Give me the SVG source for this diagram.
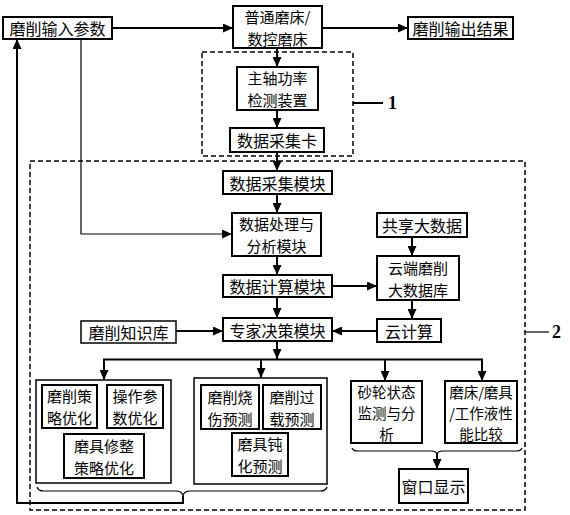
<svg xmlns="http://www.w3.org/2000/svg" width="570" height="515" viewBox="0 0 570 515">
<defs>
<style>
.b{fill:#fff;stroke:#000;stroke-width:2}
.g{fill:#fff;stroke:#000;stroke-width:1.5}
.d{fill:none;stroke:#000;stroke-width:1.5;stroke-dasharray:5,3}
.c{fill:none;stroke:#000;stroke-width:2}
.thin{fill:none;stroke:#000;stroke-width:1.2}
.t{font-family:"Noto Sans CJK SC","Noto Sans",sans-serif;font-size:16px;text-anchor:middle;dominant-baseline:central;fill:#000}
.m{font-size:15px}
.s{font-size:14.5px}
.n{font-family:"Liberation Serif",serif;font-size:18px;font-weight:bold;fill:#000}
</style>
<marker id="a" markerUnits="userSpaceOnUse" markerWidth="10" markerHeight="9" refX="10" refY="4.5" orient="auto">
<path d="M0,0 L10,4.5 L0,9 z" fill="#000"/>
</marker>
</defs>
<rect width="570" height="515" fill="#fff"/>

<g id="regions">
<rect class="d" x="202" y="52" width="151" height="104"/>
<rect class="d" x="30" y="161" width="495" height="349"/>
<line class="c" x1="353" y1="103" x2="383" y2="103"/>
<text class="n" x="388" y="109">1</text>
<line class="thin" x1="525" y1="332" x2="549" y2="332"/>
<text class="n" x="552" y="338">2</text>
</g>

<g id="connectors">
<line class="c" x1="112" y1="28" x2="233" y2="28" marker-end="url(#a)"/>
<line class="c" x1="322" y1="28" x2="408" y2="28" marker-end="url(#a)"/>
<line class="c" x1="277" y1="48" x2="277" y2="67" marker-end="url(#a)"/>
<line class="c" x1="277" y1="110" x2="277" y2="128" marker-end="url(#a)"/>
<line class="c" x1="277" y1="152" x2="277" y2="171" marker-end="url(#a)"/>
<line class="c" x1="277" y1="194" x2="277" y2="213" marker-end="url(#a)"/>
<line class="c" x1="277" y1="256" x2="277" y2="275" marker-end="url(#a)"/>
<line class="c" x1="277" y1="297" x2="277" y2="318" marker-end="url(#a)"/>
<line class="c" x1="277" y1="341" x2="277" y2="359" marker-end="url(#a)"/>
<line class="c" x1="103" y1="359.5" x2="483" y2="359.5"/>
<line class="c" x1="104" y1="359" x2="104" y2="380" marker-end="url(#a)"/>
<line class="c" x1="261" y1="359" x2="261" y2="378" marker-end="url(#a)"/>
<line class="c" x1="385" y1="359" x2="385" y2="381" marker-end="url(#a)"/>
<line class="c" x1="482" y1="359" x2="482" y2="381" marker-end="url(#a)"/>
<polyline class="thin" points="81,39 81,234 232,234" marker-end="url(#a)"/>
<line class="c" x1="176" y1="331" x2="223" y2="331" marker-end="url(#a)"/>
<line class="c" x1="332" y1="286" x2="377" y2="286" marker-end="url(#a)"/>
<line class="c" x1="412" y1="237" x2="412" y2="256" marker-end="url(#a)"/>
<line class="c" x1="412" y1="300" x2="412" y2="319" marker-end="url(#a)"/>
<line class="c" x1="377" y1="331" x2="332" y2="331" marker-end="url(#a)"/>
<path class="thin" d="M37,487 Q38,491 44,491 L176,491 Q182,491 183,496 Q184,491 190,491 L320,491 Q326,491 327,487"/>
<path class="thin" d="M352,448 Q353,451 358,451 L431,451 Q436,451 437,454 Q438,451 443,451 L516,451 Q521,451 522,448"/>
<line class="c" x1="437" y1="453" x2="437" y2="469" marker-end="url(#a)"/>
<polyline class="c" points="183,496 183,503 17,503 17,39" marker-end="url(#a)"/>
</g>

<g id="n-input"><rect class="b" x="3" y="17" width="109" height="22"/><text class="t" x="57.5" y="28">磨削输入参数</text></g>
<g id="n-machine"><rect class="b" x="233" y="6" width="89" height="42"/><text class="t m" x="277.5" y="16">普通磨床/</text><text class="t m" x="277.5" y="38">数控磨床</text></g>
<g id="n-output"><rect class="b" x="408" y="17" width="105" height="22"/><text class="t" x="460.5" y="28">磨削输出结果</text></g>
<g id="n-spindle"><rect class="b" x="237" y="67" width="81" height="43"/><text class="t m" x="277.5" y="77.5">主轴功率</text><text class="t m" x="277.5" y="99.5">检测装置</text></g>
<g id="n-card"><rect class="b" x="230" y="128" width="94" height="24"/><text class="t" x="277" y="140">数据采集卡</text></g>
<g id="n-daq"><rect class="b" x="223" y="171" width="109" height="23"/><text class="t" x="277.5" y="182.5">数据采集模块</text></g>
<g id="n-process"><rect class="b" x="232" y="213" width="89" height="43"/><text class="t m" x="276.5" y="223.5">数据处理与</text><text class="t m" x="276.5" y="245.5">分析模块</text></g>
<g id="n-calc"><rect class="b" x="223" y="275" width="109" height="22"/><text class="t" x="277.5" y="286">数据计算模块</text></g>
<g id="n-expert"><rect class="b" x="223" y="318" width="109" height="23"/><text class="t" x="277.5" y="329.5">专家决策模块</text></g>
<g id="n-knowledge"><rect class="g" x="81" y="321" width="95" height="22"/><text class="t" x="128.5" y="332">磨削知识库</text></g>
<g id="n-shared"><rect class="b" x="377" y="213" width="90" height="24"/><text class="t" x="422" y="225">共享大数据</text></g>
<g id="n-clouddb"><rect class="b" x="377" y="256" width="82" height="44"/><text class="t m" x="418" y="267">云端磨削</text><text class="t m" x="418" y="289">大数据库</text></g>
<g id="n-cloudcalc"><rect class="b" x="377" y="319" width="64" height="23"/><text class="t" x="409" y="330.5">云计算</text></g>

<g id="n-group1">
<rect class="g" x="36" y="380" width="135" height="103"/>
<rect class="b" x="42" y="385" width="55" height="43"/><text class="t m" x="69.5" y="395.5">磨削策</text><text class="t m" x="69.5" y="417.5">略优化</text>
<rect class="b" x="107" y="385" width="56" height="43"/><text class="t m" x="135" y="395.5">操作参</text><text class="t m" x="135" y="417.5">数优化</text>
<rect class="b" x="64" y="434" width="80" height="44"/><text class="t m" x="104" y="445">磨具修整</text><text class="t m" x="104" y="467">策略优化</text>
</g>
<g id="n-group2">
<rect class="g" x="194" y="378" width="133" height="106"/>
<rect class="b" x="201" y="385" width="58" height="44"/><text class="t m" x="230" y="396">磨削烧</text><text class="t m" x="230" y="418">伤预测</text>
<rect class="b" x="263" y="385" width="58" height="44"/><text class="t m" x="292" y="396">磨削过</text><text class="t m" x="292" y="418">载预测</text>
<rect class="b" x="232" y="433" width="56" height="43"/><text class="t m" x="260" y="443.5">磨具钝</text><text class="t m" x="260" y="465.5">化预测</text>
</g>
<g id="n-wheel"><rect class="b" x="351" y="381" width="71" height="62"/><text class="t s" x="386.5" y="391">砂轮状态</text><text class="t s" x="386.5" y="412">监测与分</text><text class="t s" x="386.5" y="433">析</text></g>
<g id="n-compare"><rect class="b" x="445" y="381" width="72" height="62"/><text class="t s" x="481" y="391">磨床/磨具</text><text class="t s" x="481" y="412">/工作液性</text><text class="t s" x="481" y="433">能比较</text></g>
<g id="n-window"><rect class="b" x="399" y="469" width="69" height="34"/><text class="t" x="433.5" y="486">窗口显示</text></g>
</svg>
